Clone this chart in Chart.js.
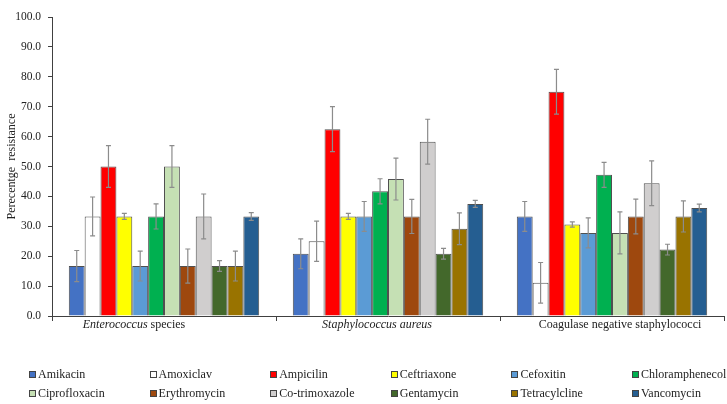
<!DOCTYPE html>
<html>
<head>
<meta charset="utf-8">
<script src="https://cdn.jsdelivr.net/npm/chart.js@4.4.0/dist/chart.umd.min.js"></script>
<style>
  html, body { margin: 0; padding: 0; background: #fff; }
  #wrap { position: relative; width: 727px; height: 404px; }
  #legend {
    position: absolute; left: 26px; top: 365px;
    display: grid; grid-template-columns: repeat(6, 120.6px); grid-auto-rows: 19px;
    font-family: "Liberation Serif", "Times New Roman", serif; font-size: 12px; color: #222;
  }
  #legend .item { display: flex; align-items: center; white-space: nowrap; }
  #legend .box { width: 5px; height: 5px; border: 1px solid #444; margin-right: 2px; margin-left: 3px; }
</style>
</head>
<body>
<div id="wrap">
  <canvas id="chart" width="727" height="404"></canvas>
  <div id="legend"></div>
</div>
<script>
const categories = ["Enterococcus species", "Staphylococcus aureus", "Coagulase negative staphylococci"];
const antibiotics = ["Amikacin", "Amoxiclav", "Ampicilin", "Ceftriaxone", "Cefoxitin", "Chloramphenecol",
                     "Ciprofloxacin", "Erythromycin", "Co-trimoxazole", "Gentamycin", "Tetracylcline", "Vancomycin"];

// percent resistance, one value per antibiotic
const enterococcus = [16.7, 33.3, 50.0, 33.3, 16.7, 33.3, 50.0, 16.7, 33.3, 16.7, 16.7, 33.3];
const staphAureus  = [20.8, 25.0, 62.5, 33.3, 33.3, 41.7, 45.8, 33.3, 58.3, 20.8, 29.2, 37.5];
const cons         = [33.3, 11.1, 75.0, 30.6, 27.8, 47.2, 27.8, 33.3, 44.4, 22.2, 33.3, 36.1];

// error bar half-lengths
const enterococcusErr = [5.2, 6.5, 7.0, 1.0, 5.0, 4.2, 7.0, 5.7, 7.5, 1.8, 5.0, 1.3];
const staphAureusErr  = [5.0, 6.7, 7.5, 1.0, 5.0, 4.2, 7.0, 5.7, 7.5, 1.8, 5.3, 1.2];
const consErr         = [5.0, 6.8, 7.5, 0.9, 5.0, 4.2, 7.0, 5.8, 7.5, 1.8, 5.2, 1.3];

const yTicks = [0, 10, 20, 30, 40, 50, 60, 70, 80, 90, 100];

const colors = ["#4472C4", "#FFFFFF", "#FF0000", "#FFFF00", "#5B9BD5", "#00B050",
                "#C5E0B4", "#9E480E", "#D0CECE", "#43682B", "#997300", "#255E91"];

const groups = [enterococcus, staphAureus, cons];
const groupErr = [enterococcusErr, staphAureusErr, consErr];

const datasets = antibiotics.map((name, i) => ({
  label: name,
  data: groups.map(g => g[i]),
  err: groupErr.map(g => g[i]),
  backgroundColor: colors[i],
  borderColor: "#505050",
  borderWidth: 1,
  borderSkipped: "bottom",
  categoryPercentage: 0.85,
  barPercentage: 1.0
}));

// label pieces: [text, italic]
const labelParts = [
  [["Enterococcus", true], [" species", false]],
  [["Staphylococcus aureus", true]],
  [["Coagulase negative staphylococci", false]]
];
const labelShift = [-30, -11, 8];

const errorBars = {
  id: "errorBars",
  afterDatasetsDraw(chart) {
    const ctx = chart.ctx;
    const y = chart.scales.y;
    ctx.save();
    ctx.strokeStyle = "#8c8c8c";
    ctx.lineWidth = 1.2;
    chart.data.datasets.forEach((ds, di) => {
      const meta = chart.getDatasetMeta(di);
      meta.data.forEach((bar, j) => {
        const v = ds.data[j], e = ds.err[j];
        const top = y.getPixelForValue(v + e), bot = y.getPixelForValue(v - e);
        ctx.beginPath();
        ctx.moveTo(bar.x, top); ctx.lineTo(bar.x, bot);
        ctx.moveTo(bar.x - 2.5, top); ctx.lineTo(bar.x + 2.5, top);
        ctx.moveTo(bar.x - 2.5, bot); ctx.lineTo(bar.x + 2.5, bot);
        ctx.stroke();
      });
    });
    ctx.restore();
  }
};

const xLabels = {
  id: "xLabels",
  afterDraw(chart) {
    const ctx = chart.ctx;
    const x = chart.scales.x;
    const yPos = chart.chartArea.bottom + 9;
    ctx.save();
    ctx.fillStyle = "#222";
    ctx.textBaseline = "middle";
    ctx.textAlign = "left";
    labelParts.forEach((parts, i) => {
      const fonts = parts.map(p => (p[1] ? "italic " : "") + "12px 'Liberation Serif', serif");
      let total = 0;
      parts.forEach((p, k) => { ctx.font = fonts[k]; total += ctx.measureText(p[0]).width; });
      let cx = x.getPixelForValue(i) + labelShift[i] - total / 2;
      parts.forEach((p, k) => {
        ctx.font = fonts[k];
        ctx.fillText(p[0], cx, yPos);
        cx += ctx.measureText(p[0]).width;
      });
    });
    ctx.restore();
  }
};

new Chart(document.getElementById("chart"), {
  type: "bar",
  data: { labels: categories, datasets: datasets },
  plugins: [errorBars, xLabels],
  options: {
    responsive: false,
    animation: false,
    layout: { padding: { top: 17, right: 3, left: 0, bottom: 0 } },
    plugins: {
      legend: { display: false },
      tooltip: { enabled: false }
    },
    scales: {
      x: {
        offset: true,
        afterFit: s => { s.height = 88; },
        grid: { offset: true, drawOnChartArea: false, drawTicks: true, tickLength: 5, color: "#404040" },
        border: { color: "#404040", width: 1 },
        ticks: { display: false }
      },
      y: {
        min: 0, max: 100,
        afterFit: s => { s.width = 52; },
        afterBuildTicks: s => { s.ticks = yTicks.map(v => ({ value: v })); },
        grid: { drawOnChartArea: false, drawTicks: true, tickLength: 4, color: "#404040" },
        border: { color: "#404040", width: 1 },
        ticks: {
          padding: 7,
          color: "#222",
          font: { family: "'Liberation Serif', serif", size: 11.5 },
          callback: v => v.toFixed(1)
        },
        title: {
          display: true,
          text: "Perecentge  resistance",
          color: "#222",
          padding: { top: 5, bottom: 0 },
          font: { family: "'Liberation Serif', serif", size: 12 }
        }
      }
    }
  }
});

const legend = document.getElementById("legend");
antibiotics.forEach((name, i) => {
  const item = document.createElement("div");
  item.className = "item";
  const box = document.createElement("span");
  box.className = "box";
  box.style.background = colors[i];
  item.appendChild(box);
  item.appendChild(document.createTextNode(name));
  legend.appendChild(item);
});
</script>
</body>
</html>
